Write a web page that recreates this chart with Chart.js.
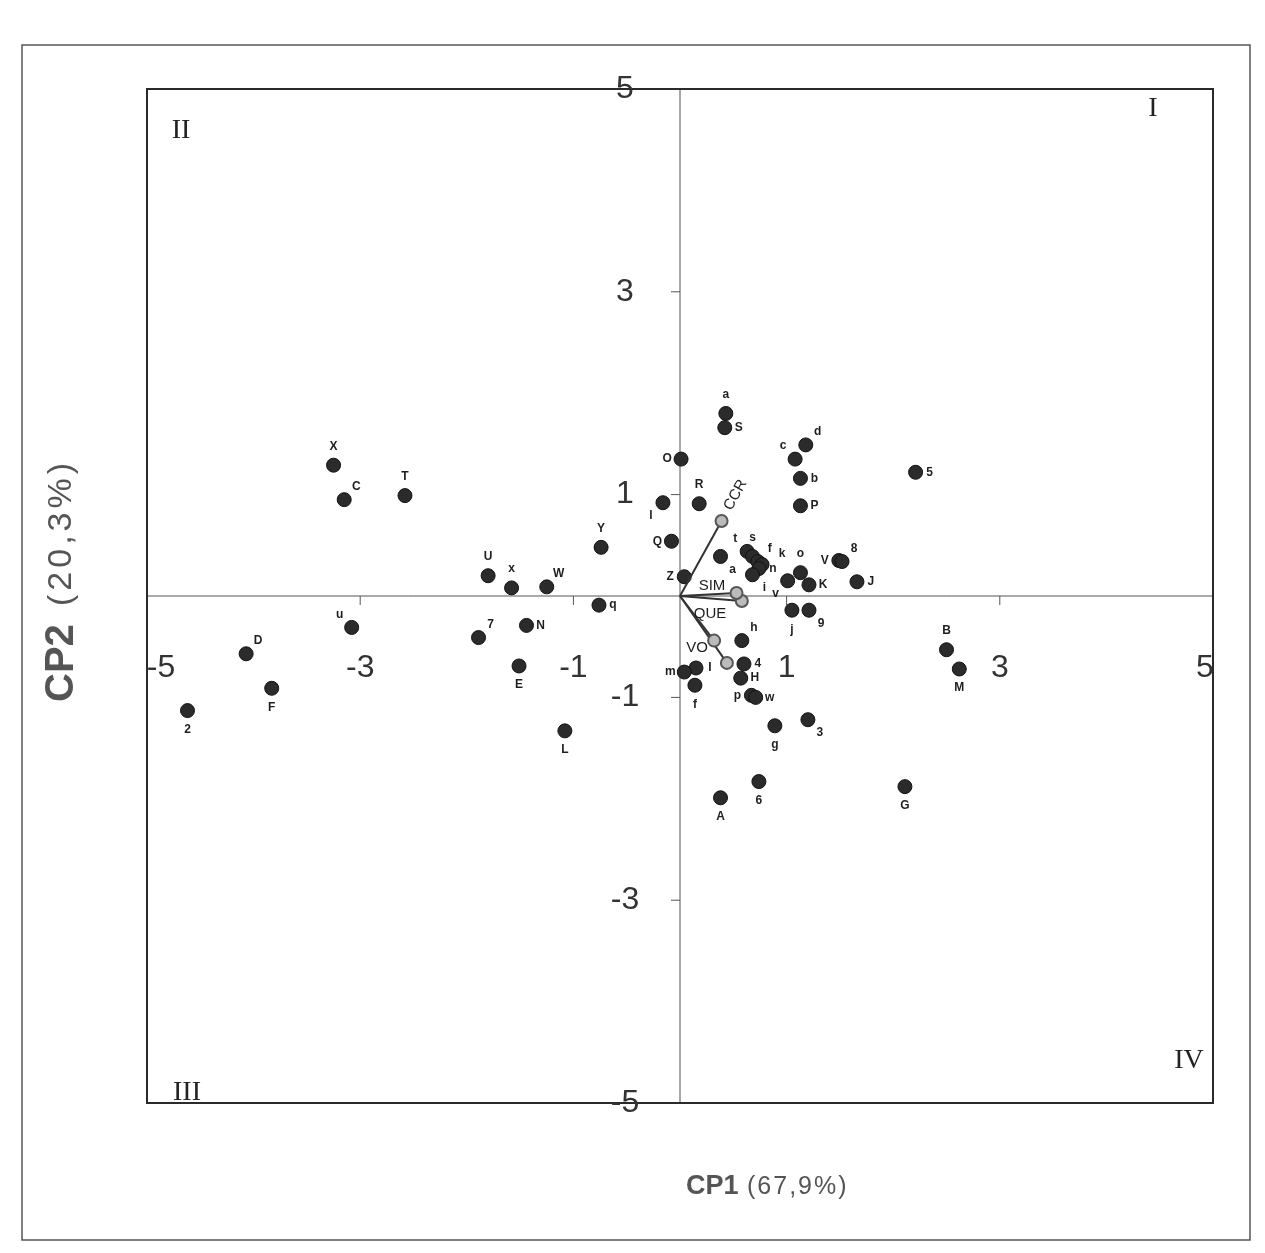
<!DOCTYPE html>
<html>
<head>
<meta charset="utf-8">
<script src="https://cdn.jsdelivr.net/npm/chart.js@4.4.1/dist/chart.umd.min.js"></script>
<style>
  html, body { margin: 0; padding: 0; background: #fff; }
  #wrap { position: relative; width: 1265px; height: 1253px; }
</style>
</head>
<body>
<div id="wrap"><canvas id="pca" width="1265" height="1253"></canvas></div>
<script>
// Scores of the observations on CP1 / CP2
const pointLabels = ['X', 'C', 'T', 'u', 'D', 'F', '2', 'U', 'x', 'W', 'Y', 'q', '7', 'N', 'E', 'L',
  'Q', 'Z', 'O', 'l', 'R', 'a', 'S', 'd', 'c', 'b', 'P', '5', 'a', 't', 's', 'f', 'k', 'n', 'i',
  'v', 'o', 'K', 'V', '8', 'J', 'j', '9', 'h', '4', 'H', 'I', 'm', 'f', 'p', 'w', 'g', '3', '6',
  'A', 'B', 'M', 'G'];
const cp1 = [-3.25, -3.15, -2.58, -3.08, -4.07, -3.83, -4.62, -1.80, -1.58, -1.25, -0.74, -0.76,
  -1.89, -1.44, -1.51, -1.08, -0.08, 0.04, 0.01, -0.16, 0.18, 0.43, 0.42, 1.18, 1.08, 1.13, 1.13,
  2.21, 0.38, 0.63, 0.68, 0.73, 0.77, 0.74, 0.68, 1.01, 1.13, 1.21, 1.49, 1.52, 1.66, 1.05, 1.21,
  0.58, 0.60, 0.57, 0.15, 0.04, 0.14, 0.67, 0.71, 0.89, 1.20, 0.74, 0.38, 2.50, 2.62, 2.11];
const cp2 = [1.29, 0.95, 0.99, -0.31, -0.57, -0.91, -1.13, 0.20, 0.08, 0.09, 0.48, -0.09,
  -0.41, -0.29, -0.69, -1.33, 0.54, 0.19, 1.35, 0.92, 0.91, 1.80, 1.66, 1.49, 1.35, 1.16, 0.89,
  1.22, 0.39, 0.44, 0.39, 0.34, 0.31, 0.27, 0.21, 0.15, 0.23, 0.11, 0.35, 0.34, 0.14, -0.14, -0.14,
  -0.44, -0.67, -0.81, -0.71, -0.75, -0.88, -0.98, -1.00, -1.28, -1.22, -1.83, -1.99, -0.53, -0.72,
  -1.88];

// Loadings of the variables (arrows from the origin)
const varLabels = ['CCR', 'SIM', 'QUE', '', 'VO'];
const varCp1 = [0.39, 0.53, 0.58, 0.32, 0.44];
const varCp2 = [0.74, 0.03, -0.05, -0.44, -0.66];

const axisTicks = [-5, -3, -1, 1, 3, 5];
const quadrants = ['I', 'II', 'III', 'IV'];

// where each observation label sits relative to its point
const SIDE = ['t', 'tr', 't', 'tl', 'tr', 'b', 'b', 't', 't', 'tr', 't', 'r', 'tr', 'r', 'b', 'b',
  'l', 'l', 'l', 'bl', 't', 't', 'r', 'tr', 'tl', 'r', 'r', 'r', 'br', 'tl', 't', 'tr', 'tr2', 'r',
  'br', 'bl', 't', 'r', 'l', 'tr', 'r', 'b', 'br', 'tr', 'r', 'r', 'r', 'l', 'b', 'l', 'r', 'b',
  'br', 'b', 'b', 't', 'b', 'b'];
const OFF = { t: [0, -19], b: [0, 19], r: [14, 0], l: [-14, 0], tr: [12, -13], tl: [-12, -13],
  br: [12, 13], bl: [-12, 13], tr2: [20, -11] };

const INK = '#1e1e1e';

function buildPoints() {
  return cp1.map((v, i) => ({ x: v, y: cp2[i] }));
}

function buildArrowSets() {
  return varCp1.map((v, i) => ({
    label: varLabels[i] || 'var' + i,
    data: [{ x: 0, y: 0 }, { x: v, y: varCp2[i] }],
    showLine: true,
    borderColor: '#333',
    borderWidth: 2,
    pointRadius: [0, 6],
    pointBackgroundColor: '#bbb',
    pointBorderColor: '#555',
    pointBorderWidth: 2
  }));
}

// Draws the frame, the central axes, tick labels, point labels and titles
const decor = {
  id: 'decor',
  beforeDatasetsDraw(chart) {
    const { ctx, chartArea: a, scales: { x, y } } = chart;
    const x0 = x.getPixelForValue(0), y0 = y.getPixelForValue(0);
    ctx.save();
    ctx.strokeStyle = '#555';
    ctx.lineWidth = 1;
    ctx.beginPath();
    ctx.moveTo(a.left, y0); ctx.lineTo(a.right, y0);
    ctx.moveTo(x0, a.top); ctx.lineTo(x0, a.bottom);
    axisTicks.forEach(t => {
      if (Math.abs(t) === 5) return;
      const px = x.getPixelForValue(t), py = y.getPixelForValue(t);
      ctx.moveTo(px, y0); ctx.lineTo(px, y0 + 9);
      ctx.moveTo(x0, py); ctx.lineTo(x0 - 9, py);
    });
    ctx.stroke();
    ctx.restore();
  },
  afterDraw(chart) {
    const { ctx, chartArea: a, scales: { x, y } } = chart;
    const x0 = x.getPixelForValue(0), y0 = y.getPixelForValue(0);
    ctx.save();
    // plot frame
    ctx.strokeStyle = '#2a2a2a';
    ctx.lineWidth = 2;
    ctx.strokeRect(a.left, a.top, a.right - a.left, a.bottom - a.top);
    // outer page frame
    ctx.lineWidth = 1.5;
    ctx.strokeStyle = '#555';
    ctx.strokeRect(22, 45, 1228, 1195);

    // tick labels
    ctx.fillStyle = '#333';
    ctx.font = '300 32px "Liberation Sans", Arial, sans-serif';
    ctx.textAlign = 'center';
    ctx.textBaseline = 'middle';
    axisTicks.forEach(t => {
      let px = x.getPixelForValue(t);
      if (t === -5) px += 14;
      if (t === 5) px -= 8;
      ctx.fillText(String(t), px, y0 + 72);
      ctx.fillText(String(t), x0 - 55, y.getPixelForValue(t));
    });

    // quadrant labels
    ctx.font = '28px "Liberation Serif", "DejaVu Serif", serif';
    ctx.fillStyle = '#222';
    ctx.fillText(quadrants[0], a.right - 60, a.top + 20);
    ctx.fillText(quadrants[1], a.left + 34, a.top + 42);
    ctx.fillText(quadrants[2], a.left + 40, a.bottom - 10);
    ctx.fillText(quadrants[3], a.right - 24, a.bottom - 42);

    // observation labels
    ctx.font = 'bold 12px "Liberation Sans", Arial, sans-serif';
    ctx.fillStyle = INK;
    pointLabels.forEach((lab, i) => {
      const o = OFF[SIDE[i]];
      ctx.fillText(lab, x.getPixelForValue(cp1[i]) + o[0], y.getPixelForValue(cp2[i]) + o[1]);
    });

    // variable labels
    ctx.font = '15px "Liberation Sans", Arial, sans-serif';
    const ccrX = x.getPixelForValue(varCp1[0]), ccrY = y.getPixelForValue(varCp2[0]);
    ctx.save();
    ctx.translate(ccrX + 14, ccrY - 26);
    ctx.rotate(-Math.atan2(varCp2[0] * 101.5, varCp1[0] * 106.7));
    ctx.fillText(varLabels[0], 0, 0);
    ctx.restore();
    ctx.fillText(varLabels[1], x0 + 32, y0 - 10);
    ctx.fillText(varLabels[2], x0 + 30, y0 + 18);
    ctx.fillText(varLabels[4], x0 + 17, y0 + 52);

    // axis titles
    ctx.textAlign = 'left';
    ctx.fillStyle = '#555';
    ctx.font = 'bold 27px "Liberation Sans", Arial, sans-serif';
    ctx.fillText('CP1', 686, 1187);
    ctx.font = '25px "Liberation Sans", Arial, sans-serif';
    ctx.letterSpacing = '2px';
    ctx.fillText('(67,9%)', 747, 1187);
    ctx.letterSpacing = '0px';
    ctx.save();
    ctx.translate(62, 702);
    ctx.rotate(-Math.PI / 2);
    ctx.font = 'bold 40px "Liberation Sans", Arial, sans-serif';
    ctx.fillText('CP2', 0, 0);
    ctx.font = '34px "Liberation Sans", Arial, sans-serif';
    ctx.letterSpacing = '4px';
    ctx.fillText('(20,3%)', 96, 0);
    ctx.restore();
    ctx.restore();
  }
};

const ctx = document.getElementById('pca').getContext('2d');
new Chart(ctx, {
  type: 'scatter',
  data: {
    datasets: [
      ...buildArrowSets(),
      {
        label: 'observations',
        data: buildPoints(),
        pointRadius: 7,
        pointBackgroundColor: '#2b2b2b',
        pointBorderColor: '#111',
        pointBorderWidth: 1
      }
    ]
  },
  options: {
    responsive: false,
    animation: false,
    layout: { padding: { left: 147, right: 52, top: 89, bottom: 150 } },
    scales: {
      x: { type: 'linear', min: -5, max: 5, display: false },
      y: { type: 'linear', min: -5, max: 5, display: false }
    },
    plugins: {
      legend: { display: false },
      tooltip: { enabled: false }
    }
  },
  plugins: [decor]
});
</script>
</body>
</html>
